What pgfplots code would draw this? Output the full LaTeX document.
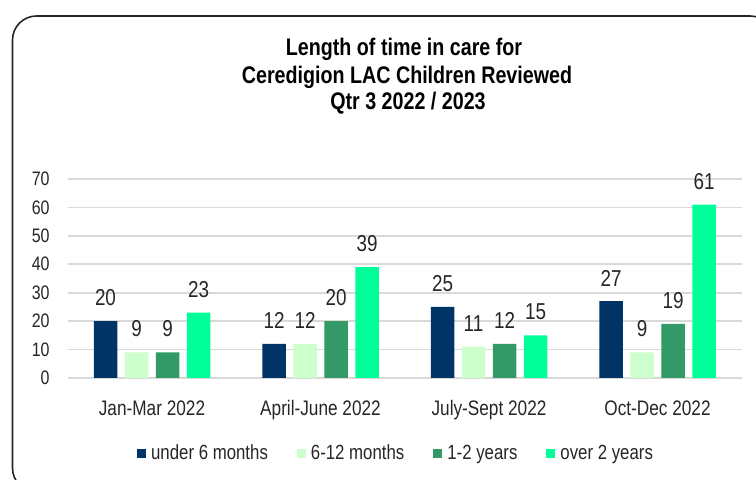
\documentclass[border=0pt]{standalone}
\usepackage{pgfplots}
\pgfplotsset{compat=1.18}
\usepackage{fontspec}
\setmainfont{Liberation Sans}[FakeStretch=0.82]
\definecolor{cNavy}{HTML}{003366}
\definecolor{cMint}{HTML}{CCFFCC}
\definecolor{cGreen}{HTML}{339966}
\definecolor{cBright}{HTML}{00FF99}
\definecolor{cGrid}{HTML}{D9D9D9}
\definecolor{cText}{HTML}{262626}
\begin{document}
\begin{tikzpicture}[x=1bp,y=1bp]
\useasboundingbox (0,0) rectangle (756,480);
\begin{scope}
\clip (0,0) rectangle (756,480);
\draw[line width=1.6bp, rounded corners=24bp, black!85] (12.5,-12) rectangle (774,464);
\end{scope}
\begin{scope}[every node/.style={anchor=base, inner sep=0pt, text=black, font=\fontsize{24bp}{27bp}\selectfont\bfseries}]
\node at (404,424) {Length of time in care for};
\node at (407,396) {Ceredigion LAC Children Reviewed};
\node at (408,370) {Qtr 3 2022 / 2023};
\end{scope}
\begin{axis}[
  at={(67.75bp,102bp)}, anchor=south west,
  scale only axis, width=674bp, height=199bp,
  xmin=-0.5, xmax=3.5, ymin=0, ymax=70,
  ybar=7.5bp, bar width=23.5bp,
  axis line style={draw=none},
  tick style={draw=none},
  ymajorgrids, grid style={cGrid, line width=1.6bp},
  ytick={0,10,...,70},
  xtick={0,1,2,3},
  xticklabels={Jan-Mar 2022, April-June 2022, July-Sept 2022, Oct-Dec 2022},
  /pgf/number format/assume math mode=true,
  yticklabel style={font=\fontsize{19.5bp}{21bp}\selectfont, text=cText, anchor=east, inner sep=0pt, xshift=-18bp},
  xticklabel style={font=\fontsize{21bp}{23bp}\selectfont, text=cText, anchor=north, inner sep=0pt, yshift=-18bp},
  nodes near coords,
  nodes near coords style={font=\fontsize{23bp}{25bp}\selectfont, text=cText, anchor=south, inner sep=0pt, yshift=15bp},
  clip=false,
  legend columns=4,
  legend style={draw=none, at={(0.4856,-0.377)}, anchor=center,
    font=\fontsize{20.5bp}{22bp}\selectfont, text=cText,
    nodes={inner sep=0pt},
    /tikz/every odd column/.append style={column sep=5bp},
    /tikz/every even column/.append style={column sep=29bp}},
  legend image code/.code={\fill[#1] (0bp,-4.5bp) rectangle (9bp,4.5bp);},
]
\addplot[fill=cNavy, draw=none] coordinates {(0,20) (1,12) (2,25) (3,27)};
\addplot[fill=cMint, draw=none] coordinates {(0,9) (1,12) (2,11) (3,9)};
\addplot[fill=cGreen, draw=none] coordinates {(0,9) (1,20) (2,12) (3,19)};
\addplot[fill=cBright, draw=none] coordinates {(0,23) (1,39) (2,15) (3,61)};
\legend{under 6 months, 6-12 months, 1-2 years, over 2 years}
\end{axis}
\end{tikzpicture}
\end{document}
